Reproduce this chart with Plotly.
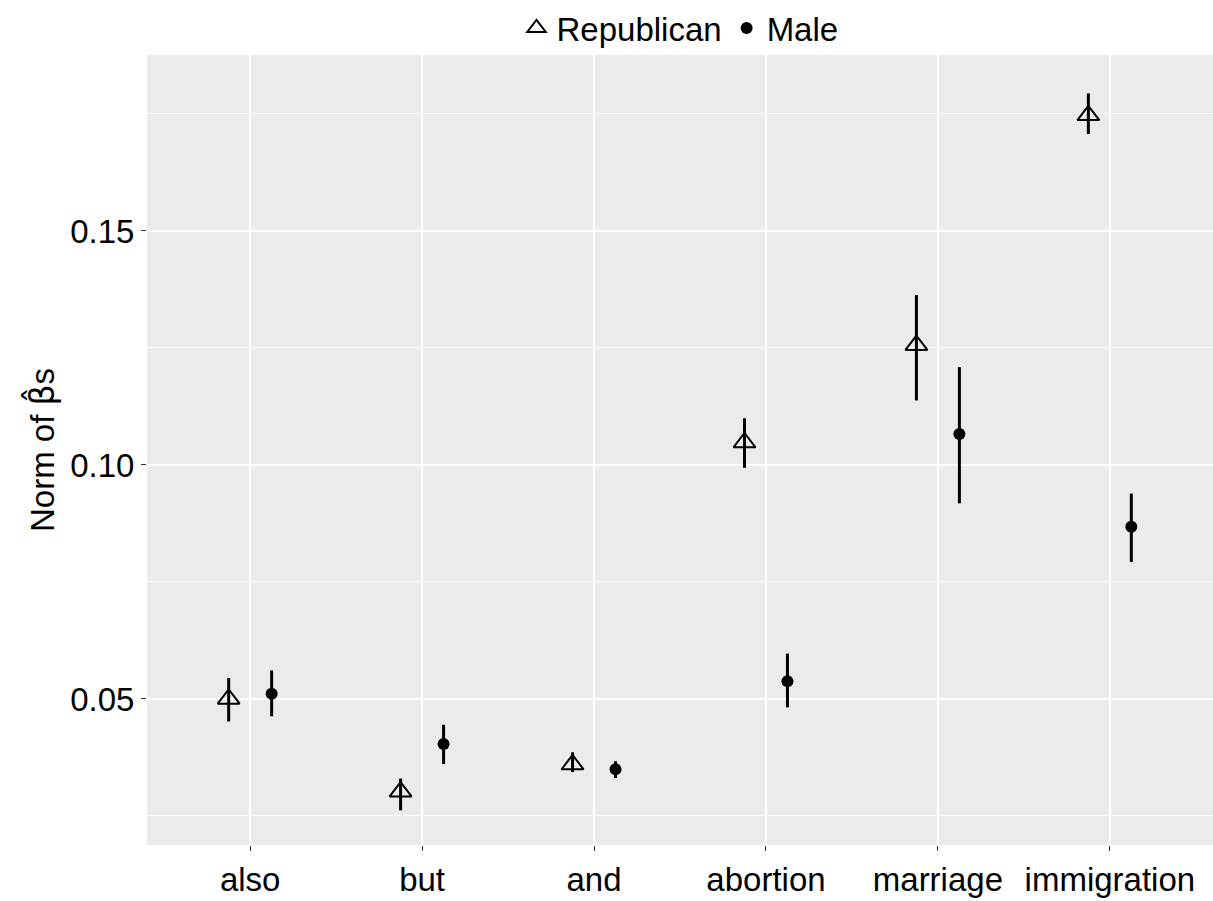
import plotly.graph_objects as go

categories = ["also", "but", "and", "abortion", "marriage", "immigration"]

rep_est = [0.0500, 0.0302, 0.0360, 0.1048, 0.1256, 0.1747]
rep_lo = [0.0452, 0.0262, 0.0344, 0.0994, 0.1138, 0.1707]
rep_hi = [0.0545, 0.0330, 0.0386, 0.1100, 0.1363, 0.1794]

male_est = [0.0511, 0.0404, 0.0350, 0.0538, 0.1066, 0.0868]
male_lo = [0.0463, 0.0361, 0.0331, 0.0482, 0.0918, 0.0793]
male_hi = [0.0561, 0.0445, 0.0367, 0.0597, 0.1209, 0.0939]

y_ticks = [0.05, 0.10, 0.15]
dodge = 0.125

FONT = "Liberation Sans, Arial, Helvetica, sans-serif"
FS = 33

def xpos(offset):
    return [i + offset for i in range(len(categories))]

fig = go.Figure()
fig.add_trace(go.Scatter(
    x=xpos(-dodge), y=rep_est, mode="markers", name="Republican",
    marker=dict(symbol="triangle-up-open", size=19, color="black",
                line=dict(width=2, color="black")),
    error_y=dict(type="data", symmetric=False,
                 array=[h - e for h, e in zip(rep_hi, rep_est)],
                 arrayminus=[e - l for e, l in zip(rep_est, rep_lo)],
                 width=0, thickness=3, color="black"),
))
fig.add_trace(go.Scatter(
    x=xpos(dodge), y=male_est, mode="markers", name="Male",
    marker=dict(symbol="circle", size=12, color="black"),
    error_y=dict(type="data", symmetric=False,
                 array=[h - e for h, e in zip(male_hi, male_est)],
                 arrayminus=[e - l for e, l in zip(male_est, male_lo)],
                 width=0, thickness=3, color="black"),
))

fig.update_layout(
    width=1213, height=901,
    margin=dict(l=147, r=0, t=55, b=56),
    paper_bgcolor="white",
    plot_bgcolor="#EBEBEB",
    font=dict(family=FONT, size=FS, color="black"),
    showlegend=True,
    legend=dict(orientation="h", x=0.5, xanchor="center",
                y=1.0 + 55 / 790, yanchor="top",
                font=dict(size=FS), bgcolor="rgba(0,0,0,0)", itemwidth=30,
                traceorder="normal"),
    xaxis=dict(
        range=[-0.6, 5.6],
        tickvals=list(range(len(categories))), ticktext=categories,
        showgrid=True, gridcolor="white", gridwidth=1.6,
        zeroline=False, showline=False,
        ticks="outside", ticklen=5, tickwidth=1.2, tickcolor="#333333",
        tickfont=dict(size=FS, color="black"),
    ),
    yaxis=dict(
        range=[0.0188, 0.1876],
        tickvals=y_ticks, tickformat=".2f",
        showgrid=True, gridcolor="white", gridwidth=1.6,
        zeroline=False, showline=False,
        ticks="outside", ticklen=5, tickwidth=1.2, tickcolor="#333333",
        tickfont=dict(size=FS, color="black"),
        minor=dict(tickvals=[0.025, 0.075, 0.125, 0.175], showgrid=True,
                   gridcolor="white", gridwidth=0.8, ticks=""),
        title=dict(text="Norm of <span style='font-family:DejaVu Sans'>β\u0302</span>s",
                   font=dict(size=FS), standoff=5),
    ),
)

fig.write_html(
    "out.html",
    config={"displayModeBar": False},
    post_script="document.body.style.margin='0';document.body.style.overflow='hidden';",
)
